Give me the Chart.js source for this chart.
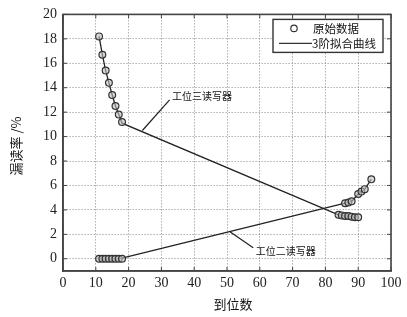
<!DOCTYPE html>
<html>
<head>
<meta charset="utf-8">
<script src="https://cdn.jsdelivr.net/npm/chart.js@4"></script>
<style>
  body { margin: 0; background: #fff; }
  #wrap { width: 407px; height: 317px; }
</style>
</head>
<body>
<div id="wrap"><canvas id="grafica" width="407" height="317"></canvas></div>
<script>
// datos
var xTicks = [0, 10, 20, 30, 40, 50, 60, 70, 80, 90, 100];
var yTicks = [0, 2, 4, 6, 8, 10, 12, 14, 16, 18, 20];

//工位三读写器
var x3 = [11, 12, 13, 14, 15, 16, 17, 18, 84, 85, 86, 87, 88, 89, 90];
var y3 = [18.2, 16.7, 15.4, 14.4, 13.4, 12.5, 11.8, 11.2, 3.6, 3.55, 3.5, 3.5, 3.45, 3.4, 3.4];
var fit3 = [18.2, 16.7, 15.4, 14.4, 13.4, 12.5, 11.8, 11.1, 3.6, 3.55, 3.5, 3.5, 3.45, 3.4, 3.4];

// 工位二读写器
var x2 = [11, 12, 13, 14, 15, 16, 17, 18, 86, 87, 88, 90, 91, 92, 94];
var y2 = [0, 0, 0, 0, 0, 0, 0, 0, 4.55, 4.6, 4.7, 5.3, 5.5, 5.7, 6.5];
var fit2 = [0, 0, 0, 0, 0, 0, 0, 0.05, 4.55, 4.6, 4.7, 5.3, 5.5, 5.7, 6.5];

var labelPuntos = '原始数据';
var labelCurva = '3阶拟合曲线';
var notas = [
  { texto: '工位三读写器', x: 33.2, y: 13.3, desde: [32.5, 13.0], hasta: [24.2, 10.5] },
  { texto: '工位二读写器', x: 58.8, y: 0.6, desde: [58.0, 0.9], hasta: [51.0, 2.2] }
];

function pares(xs, ys) {
  return xs.map(function (x, i) { return { x: x, y: ys[i] }; });
}

var cjk = '"Noto Sans CJK SC", sans-serif';

var extras = {
  id: 'extras',
  afterDraw: function (chart) {
    var ctx = chart.ctx;
    var a = chart.chartArea;
    var sx = chart.scales.x, sy = chart.scales.y;
    ctx.save();
    // marco
    ctx.strokeStyle = '#444';
    ctx.lineWidth = 1.6;
    ctx.strokeRect(a.left, a.top, a.right - a.left, a.bottom - a.top);
    // marcas interiores
    ctx.lineWidth = 1;
    xTicks.forEach(function (v) {
      var px = sx.getPixelForValue(v);
      ctx.beginPath();
      ctx.moveTo(px, a.bottom); ctx.lineTo(px, a.bottom - 4);
      ctx.moveTo(px, a.top); ctx.lineTo(px, a.top + 4);
      ctx.stroke();
    });
    yTicks.forEach(function (v) {
      var py = sy.getPixelForValue(v);
      ctx.beginPath();
      ctx.moveTo(a.left, py); ctx.lineTo(a.left + 4, py);
      ctx.moveTo(a.right, py); ctx.lineTo(a.right - 4, py);
      ctx.stroke();
    });
    // notas con linea guia
    ctx.fillStyle = '#111';
    ctx.strokeStyle = '#222';
    ctx.lineWidth = 1.2;
    ctx.font = '10px ' + cjk;
    ctx.textBaseline = 'middle';
    ctx.textAlign = 'left';
    notas.forEach(function (n) {
      ctx.beginPath();
      ctx.moveTo(sx.getPixelForValue(n.desde[0]), sy.getPixelForValue(n.desde[1]));
      ctx.lineTo(sx.getPixelForValue(n.hasta[0]), sy.getPixelForValue(n.hasta[1]));
      ctx.stroke();
      ctx.fillText(n.texto, sx.getPixelForValue(n.x), sy.getPixelForValue(n.y));
    });
    // leyenda
    var lx = a.right - 118, ly = a.top + 5, lw = 110, lh = 33;
    ctx.fillStyle = '#fff';
    ctx.fillRect(lx, ly, lw, lh);
    ctx.strokeStyle = '#333';
    ctx.lineWidth = 1.4;
    ctx.strokeRect(lx, ly, lw, lh);
    ctx.lineWidth = 1.2;
    ctx.beginPath();
    ctx.arc(lx + 21, ly + 9, 3.2, 0, Math.PI * 2);
    ctx.stroke();
    ctx.beginPath();
    ctx.moveTo(lx + 6, ly + 24); ctx.lineTo(lx + 39, ly + 24);
    ctx.stroke();
    ctx.fillStyle = '#111';
    ctx.font = '11.5px ' + cjk;
    ctx.fillText(labelPuntos, lx + 40, ly + 9);
    ctx.fillText(labelCurva, lx + 39, ly + 24);
    // titulos de ejes
    ctx.font = '13px ' + cjk;
    ctx.textAlign = 'center';
    ctx.fillText('到位数', (a.left + a.right) / 2 + 6, 304);
    ctx.save();
    ctx.translate(16, 146);
    ctx.rotate(-Math.PI / 2);
    ctx.fillText('漏读率 /%', 0, 0);
    ctx.restore();
    ctx.restore();
  }
};

var ctx = document.getElementById('grafica').getContext('2d');
var grafica = new Chart(ctx, {
  type: 'scatter',
  data: {
    datasets: [
      { label: labelCurva, data: pares(x3, fit3), showLine: true, pointRadius: 0,
        borderColor: '#222', borderWidth: 1.3, order: 2 },
      { label: labelCurva, data: pares(x2, fit2), showLine: true, pointRadius: 0,
        borderColor: '#222', borderWidth: 1.3, order: 2 },
      { label: labelPuntos, data: pares(x3, y3), showLine: false, pointRadius: 3.4,
        borderColor: '#333', borderWidth: 1.2, backgroundColor: 'rgba(190,190,190,0.6)', order: 1 },
      { label: labelPuntos, data: pares(x2, y2), showLine: false, pointRadius: 3.4,
        borderColor: '#333', borderWidth: 1.2, backgroundColor: 'rgba(190,190,190,0.6)', order: 1 }
    ]
  },
  options: {
    responsive: false,
    animation: false,
    layout: { padding: { left: 0, top: 13, right: 16, bottom: 0 } },
    plugins: { legend: { display: false }, tooltip: { enabled: false } },
    scales: {
      x: {
        type: 'linear', min: 0, max: 100,
        afterBuildTicks: function (s) { s.ticks = xTicks.map(function (v) { return { value: v }; }); },
        afterFit: function (s) { s.height = 46; },
        grid: { color: '#888', drawTicks: false },
        border: { color: '#444', width: 1.6, dash: [1, 2] },
        ticks: { color: '#222', padding: 4, maxRotation: 0, autoSkip: false,
          font: { family: '"Liberation Serif", serif', size: 14 } }
      },
      y: {
        type: 'linear', min: -1, max: 20,
        afterBuildTicks: function (s) { s.ticks = yTicks.map(function (v) { return { value: v }; }); },
        afterFit: function (s) { s.width = 63; },
        grid: { color: '#888', drawTicks: false },
        border: { color: '#444', width: 1.6, dash: [1, 2] },
        ticks: { color: '#222', padding: 6, autoSkip: false,
          font: { family: '"Liberation Serif", serif', size: 14 } }
      }
    }
  },
  plugins: [extras]
});
</script>
</body>
</html>
